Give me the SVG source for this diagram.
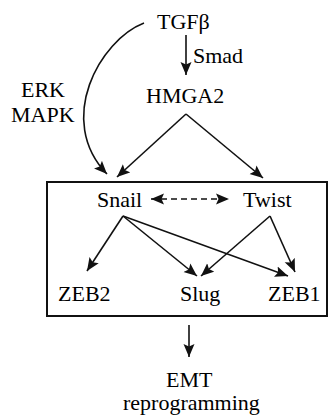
<svg xmlns="http://www.w3.org/2000/svg" width="329" height="418" viewBox="0 0 329 418">
  <defs>
    <marker id="arrow" markerUnits="userSpaceOnUse" markerWidth="14" markerHeight="12" refX="13" refY="6" orient="auto-start-reverse" viewBox="0 0 14 12">
      <path d="M0,0.5 L13,6 L0,11.5 L2.5,6 Z" fill="#111"/>
    </marker>
  </defs>

  <!-- frame around the transcription factor network -->
  <rect x="47" y="182" width="280" height="134" fill="none" stroke="#111" stroke-width="2"/>

  <g id="connectors" fill="none" stroke="#111" stroke-width="1.6" marker-end="url(#arrow)">
    <path d="M144,23 C100,40 55,120 107,174"/>
    <line x1="186" y1="35" x2="186" y2="75"/>
    <line x1="186" y1="114" x2="117" y2="177"/>
    <line x1="186" y1="114" x2="263" y2="178"/>
    <line x1="151" y1="199" x2="229" y2="199" stroke-dasharray="6 4" marker-start="url(#arrow)"/>
    <line x1="123" y1="216" x2="87" y2="271"/>
    <line x1="123" y1="216" x2="197" y2="276"/>
    <line x1="123" y1="216" x2="288" y2="276"/>
    <line x1="270" y1="216" x2="201" y2="276"/>
    <line x1="270" y1="216" x2="295" y2="272"/>
    <line x1="189" y1="325" x2="189" y2="357"/>
  </g>

  <g id="tgfb"><text x="157" y="29" font-size="22" font-family="Liberation Serif">TGF&#946;</text></g>
  <g id="smad"><text x="193" y="63" font-size="22" font-family="Liberation Serif">Smad</text></g>
  <g id="erk-mapk"><text x="21" y="97" font-size="22" font-family="Liberation Serif">ERK</text><text x="11" y="122" font-size="22" font-family="Liberation Serif">MAPK</text></g>
  <g id="hmga2"><text x="146" y="103" font-size="22" font-family="Liberation Serif">HMGA2</text></g>
  <g id="snail"><text x="97" y="207" font-size="22" font-family="Liberation Serif">Snail</text></g>
  <g id="twist"><text x="243" y="207" font-size="22" font-family="Liberation Serif">Twist</text></g>
  <g id="zeb2"><text x="58" y="301" font-size="22" font-family="Liberation Serif">ZEB2</text></g>
  <g id="slug"><text x="180" y="301" font-size="22" font-family="Liberation Serif">Slug</text></g>
  <g id="zeb1"><text x="268" y="301" font-size="22" font-family="Liberation Serif">ZEB1</text></g>
  <g id="emt"><text x="166" y="387" font-size="22" font-family="Liberation Serif">EMT</text><text x="123" y="410" font-size="22" font-family="Liberation Serif">reprogramming</text></g>
</svg>
